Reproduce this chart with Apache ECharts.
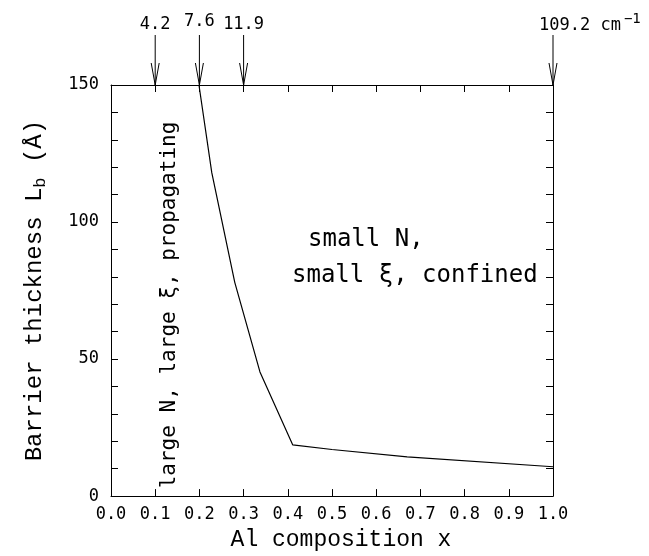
<!DOCTYPE html>
<html>
<head>
<meta charset="utf-8">
<script src="https://cdn.jsdelivr.net/npm/echarts@6/dist/echarts.min.js"></script>
<style>
  html, body { margin: 0; padding: 0; background: #fff; }
  #main { width: 649px; height: 556px; }
</style>
</head>
<body>
<div id="main"></div>
<script>
// boundary curve (Al composition x, barrier thickness in Angstrom)
var compX = [0.199, 0.228, 0.28, 0.337, 0.411, 0.5, 0.67, 1.0];
var thickY = [150, 118, 78, 45.3, 18.7, 17.0, 14.3, 10.7];

// arrows on top axis with their wavenumber labels
var arrowX = [0.1, 0.2, 0.3, 1.0];
var arrowLabels = ['4.2', '7.6', '11.9', '109.2'];

var yLabelEvery = 50;

var chartDom = document.getElementById('main');
var myChart = echarts.init(chartDom);
var option;

var sans = 'DejaVu Sans Mono';
var serif = 'Liberation Mono';

var curveData = compX.map(function (x, i) { return [x, thickY[i]]; });
var arrowData = arrowX.map(function (x, i) { return [x, 150, i]; });

var axisLine = { onZero: false, lineStyle: { color: '#000', width: 1 } };
var axisTick = { inside: true, length: 7, lineStyle: { color: '#000' } };

option = {
  backgroundColor: '#fff',
  animation: false,
  grid: {
    left: 111,
    right: 96,
    top: 85,
    bottom: 53
  },
  xAxis: [
    {
      type: 'value',
      min: 0,
      max: 1,
      interval: 0.1,
      name: 'Al composition x',
      nameLocation: 'middle',
      nameGap: 29,
      nameTextStyle: { fontFamily: serif, fontSize: 23, color: '#000', padding: [0, 0, 0, 18] },
      axisLine: axisLine,
      axisTick: axisTick,
      axisLabel: {
        fontFamily: sans,
        fontSize: 17,
        color: '#000',
        margin: 10,
        formatter: function (v) { return v.toFixed(1); }
      },
      splitLine: { show: false }
    },
    {
      type: 'value',
      position: 'top',
      min: 0,
      max: 1,
      interval: 0.1,
      axisLine: axisLine,
      axisTick: axisTick,
      axisLabel: { show: false },
      splitLine: { show: false }
    }
  ],
  yAxis: [
    {
      type: 'value',
      min: 0,
      max: 150,
      interval: 10,
      name: 'Barrier thickness L{sub|b} (Å)',
      nameLocation: 'middle',
      nameGap: 62,
      nameTextStyle: {
        fontFamily: serif,
        fontSize: 24,
        color: '#000',
        rich: {
          sub: { fontFamily: serif, fontSize: 17, color: '#000', padding: [12, 0, 0, 0] }
        }
      },
      axisLine: axisLine,
      axisTick: axisTick,
      axisLabel: {
        fontFamily: sans,
        fontSize: 17,
        color: '#000',
        margin: 12,
        formatter: function (v) { return v % yLabelEvery === 0 ? String(v) : ''; }
      },
      splitLine: { show: false }
    },
    {
      type: 'value',
      position: 'right',
      min: 0,
      max: 150,
      interval: 10,
      axisLine: axisLine,
      axisTick: axisTick,
      axisLabel: { show: false },
      splitLine: { show: false }
    }
  ],
  graphic: [
    {
      type: 'text',
      left: 308,
      top: 228,
      style: { text: 'small N,', font: '24px "DejaVu Sans Mono"', fill: '#000' }
    },
    {
      type: 'text',
      left: 292,
      top: 264,
      style: { text: 'small ξ, confined', font: '24px "DejaVu Sans Mono"', fill: '#000' }
    },
    {
      type: 'text',
      x: 170,
      y: 305,
      rotation: Math.PI / 2,
      style: {
        text: 'large N, large ξ, propagating',
        font: '21px "DejaVu Sans Mono"',
        fill: '#000',
        align: 'center',
        verticalAlign: 'middle'
      }
    }
  ],
  series: [
    {
      name: 'boundary',
      type: 'line',
      data: curveData,
      symbol: 'none',
      lineStyle: { color: '#000', width: 1.2 },
      z: 3
    },
    {
      name: 'arrows',
      type: 'custom',
      clip: false,
      data: arrowData,
      renderItem: function (params, api) {
        var p = api.coord([api.value(0), api.value(1)]);
        var idx = api.value(2);
        var isLast = idx === arrowLabels.length - 1;
        var children = [
          { type: 'line', shape: { x1: p[0], y1: p[1] - 50, x2: p[0], y2: p[1] },
            style: { stroke: '#000', lineWidth: 1 } },
          { type: 'polyline', shape: { points: [[p[0] - 4, p[1] - 22], [p[0], p[1]], [p[0] + 4, p[1] - 22]] },
            style: { stroke: '#000', lineWidth: 1, fill: null } }
        ];
        if (isLast) {
          children.push({
            type: 'text',
            x: p[0] - 14,
            y: p[1] - 59,
            style: {
              text: arrowLabels[idx] + ' cm{sup|−1}',
              font: '17px "DejaVu Sans Mono"',
              fill: '#000',
              align: 'left',
              verticalAlign: 'middle',
              rich: {
                sup: { fontFamily: sans, fontSize: 14, fill: '#000', padding: [0, 0, 14, 3] }
              }
            }
          });
        } else {
          children.push({
            type: 'text',
            x: p[0],
            y: p[1] - (idx === 1 ? 63 : 60),
            style: {
              text: arrowLabels[idx],
              font: '17px "DejaVu Sans Mono"',
              fill: '#000',
              align: 'center',
              verticalAlign: 'middle'
            }
          });
        }
        return { type: 'group', children: children };
      },
      z: 4
    }
  ]
};

option && myChart.setOption(option);
</script>
</body>
</html>
